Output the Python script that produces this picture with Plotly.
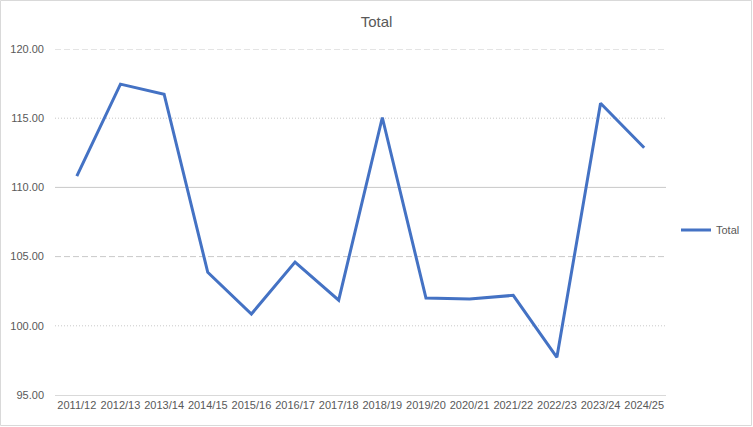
import plotly.graph_objects as go

years = ["2011/12", "2012/13", "2013/14", "2014/15", "2015/16", "2016/17", "2017/18",
         "2018/19", "2019/20", "2020/21", "2021/22", "2022/23", "2023/24", "2024/25"]
total = [110.81, 117.46, 116.73, 103.87, 100.85, 104.60, 101.85,
         115.05, 102.00, 101.93, 102.20, 97.72, 116.08, 112.86]

y_ticks = [95, 100, 105, 110, 115, 120]
solid_grid = [110]
dashed_grid = [105, 120]
dotted_grid = [100, 115]

W, H = 753, 427
ML, MR, MT, MB = 55, 87, 49, 32
PW, PH = W - ML - MR, H - MT - MB

fig = go.Figure()
fig.add_trace(go.Scatter(x=years, y=total, mode="lines", name="Total",
                         line=dict(color="#4472C4", width=3)))

shapes = []
grid_color = "#c9c9c9"
for v in solid_grid:
    shapes.append(dict(type="line", xref="paper", yref="y", x0=0, x1=1, y0=v, y1=v,
                       line=dict(color=grid_color, width=1), layer="below"))
for v in dashed_grid:
    shapes.append(dict(type="line", xref="paper", yref="y", x0=0, x1=1, y0=v, y1=v,
                       line=dict(color=grid_color, width=1, dash="6px,3px"), layer="below"))
for v in dotted_grid:
    shapes.append(dict(type="line", xref="paper", yref="y", x0=0, x1=1, y0=v, y1=v,
                       line=dict(color=grid_color, width=1, dash="1px,2px"), layer="below"))
# chart border
shapes.append(dict(type="rect", xref="paper", yref="paper",
                   x0=-ML / PW + 0.5 / PW, x1=1 + (MR - 1.5) / PW,
                   y0=-MB / PH + 1.5 / PH, y1=1 + (MT - 0.5) / PH,
                   line=dict(color="#d9d9d9", width=1), fillcolor="rgba(0,0,0,0)"))

fig.update_layout(
    width=W, height=H,
    margin=dict(l=ML, r=MR, t=MT, b=MB, autoexpand=False),
    paper_bgcolor="white", plot_bgcolor="white",
    font=dict(family="Liberation Sans, Arial, sans-serif", color="#595959", size=11),
    title=dict(text="Total", x=0.5, xanchor="center", y=1 - 22 / H, yanchor="middle",
               font=dict(size=15, color="#595959")),
    showlegend=True,
    legend=dict(x=1 + 10 / PW, xanchor="left", y=(H - MB - 230) / PH, yanchor="middle",
                font=dict(size=11, color="#595959"), bgcolor="rgba(0,0,0,0)",
                itemwidth=30),
    shapes=shapes,
)
fig.update_xaxes(type="category", showgrid=False, showline=True, linecolor="#d9d9d9",
                 linewidth=1, ticks="", tickfont=dict(size=11, color="#595959"),
                 range=[-0.5, len(years) - 0.5], fixedrange=True)
fig.update_yaxes(range=[95, 120], tickvals=y_ticks,
                 ticktext=[f"{v:.2f}" for v in y_ticks], showgrid=False,
                 zeroline=False, showline=False, ticks="", ticklabelstandoff=10,
                 tickfont=dict(size=11, color="#595959"), fixedrange=True)

fig.write_html("out.html", config={"displayModeBar": False},
               post_script="document.body.style.margin='0';document.body.style.overflow='hidden';")
